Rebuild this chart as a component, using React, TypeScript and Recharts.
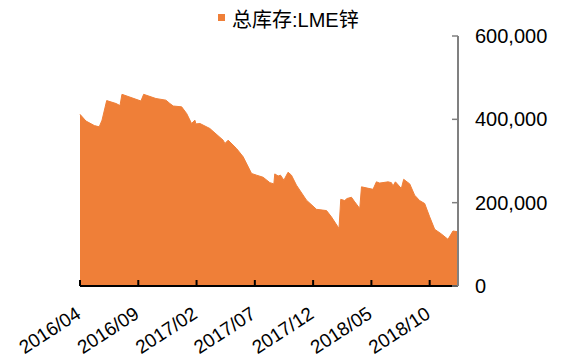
import { AreaChart, Area, XAxis, YAxis } from 'recharts';

// months elapsed since 2016/04, and LME zinc total stock (tonnes)
const monthOffset = [
  0, 0.51, 1.23, 1.65, 1.89, 2.29, 3.09, 3.43, 3.6, 5.23, 5.46, 6.51, 7.37, 7.71,
  8.0, 8.72, 9.15, 9.57, 9.86, 9.94, 10.29, 11.14, 12.28, 12.43, 12.71, 13.43,
  14.0, 14.72, 15.15, 15.71, 16.29, 16.63, 16.71, 17.0, 17.2, 17.49, 17.85, 18.14,
  18.57, 19.43, 20.29, 21.15, 21.57, 22.22, 22.37, 22.71, 22.91, 23.29, 23.57,
  24.0, 24.15, 25.14, 25.43, 25.71, 26.43, 26.72, 26.85, 27.06, 27.57, 27.77,
  28.29, 28.71, 29.14, 29.57, 30.0, 30.43, 31.0, 31.57, 32.0, 32.43,
];
const stockTonnes = [
  412000, 396000, 385000, 382000, 398000, 445000, 438000, 433000, 460000, 444000,
  460000, 450000, 446000, 438000, 432000, 430000, 414000, 390000, 398000, 389000,
  390000, 378000, 350000, 342000, 350000, 330000, 310000, 270000, 266000, 261000,
  248000, 245000, 269000, 264000, 266000, 254000, 273000, 266000, 242000, 206000,
  184000, 181000, 166000, 138000, 208000, 205000, 210000, 213000, 202000, 186000,
  238000, 232000, 250000, 247000, 250000, 248000, 240000, 250000, 234000, 256000,
  245000, 218000, 205000, 198000, 166000, 136000, 125000, 112000, 132000, 130000,
];
const tickMonths = [0, 5, 10, 15, 20, 25, 30];
const tickLabels = ['2016/04', '2016/09', '2017/02', '2017/07', '2017/12', '2018/05', '2018/10'];
const yTicks = [0, 200000, 400000, 600000];
const seriesName = '总库存:LME锌';

const data = monthOffset.map((m, i) => ({ m, value: stockTonnes[i] }));

const ORANGE = '#EF7F38';
const FONT = '"Liberation Sans", Arial, "Noto Sans CJK SC", sans-serif';

const XTick = (props: any) => {
  const { x, y, payload } = props;
  const idx = tickMonths.indexOf(payload.value);
  const ax = x + 2;
  const ay = y + 31;
  return (
    <g>
      <line x1={x} x2={x} y1={y} y2={y - 6} stroke="#000" strokeWidth={2} />
      <text
        x={ax}
        y={ay}
        transform={`rotate(-33, ${ax}, ${ay})`}
        textAnchor="end"
        fontSize={19}
        fontFamily={FONT}
        fill="#000"
      >
        {tickLabels[idx]}
      </text>
    </g>
  );
};

const YTick = (props: any) => {
  const { x, y, payload } = props;
  return (
    <g>
      <line x1={x - 17} x2={x - 23} y1={y} y2={y} stroke="#808080" strokeWidth={1.5} />
      <text x={x} y={y} dy={7} textAnchor="start" fontSize={20} fontFamily={FONT} fill="#000">
        {payload.value.toLocaleString('en-US')}
      </text>
    </g>
  );
};

export default function App() {
  return (
    <div style={{ position: 'absolute', left: 0, top: 0, width: 566, height: 358, background: '#fff' }}>
      <AreaChart width={566} height={358} data={data} margin={{ top: 36, right: 0, bottom: 0, left: 80 }}>
        <XAxis
          dataKey="m"
          type="number"
          domain={[0, 32.43]}
          ticks={tickMonths}
          interval={0}
          height={72}
          tickSize={0}
          tickMargin={0}
          tickLine={false}
          axisLine={{ stroke: '#000', strokeWidth: 2 }}
          tick={<XTick />}
        />
        <YAxis
          orientation="right"
          domain={[0, 600000]}
          ticks={yTicks}
          width={108}
          tickSize={0}
          tickMargin={17}
          tickLine={false}
          axisLine={{ stroke: '#808080', strokeWidth: 2 }}
          tick={<YTick />}
        />
        <Area
          type="linear"
          dataKey="value"
          name={seriesName}
          stroke={ORANGE}
          strokeWidth={1}
          fill={ORANGE}
          fillOpacity={1}
          isAnimationActive={false}
        />
      </AreaChart>
      {/* series legend above the plot */}
      <div style={{ position: 'absolute', left: 218, top: 14, width: 7, height: 7, background: ORANGE }} />
      <div
        style={{
          position: 'absolute',
          left: 232,
          top: 8,
          lineHeight: '24px',
          fontFamily: FONT,
          fontSize: 20,
          color: '#000',
          whiteSpace: 'nowrap',
        }}
      >
        {seriesName}
      </div>
    </div>
  );
}
